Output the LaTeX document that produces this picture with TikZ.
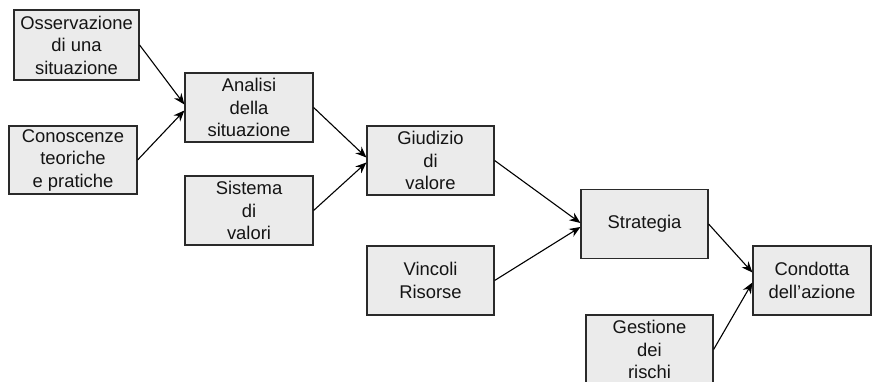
\documentclass[tikz,border=0pt]{standalone}
\usepackage{fontspec}
\setmainfont{Liberation Sans}
\usetikzlibrary{arrows.meta}
\definecolor{boxfill}{HTML}{EBEBEB}
\definecolor{boxline}{HTML}{2A2A2A}
\tikzset{
  stepbox/.style={draw=boxline, fill=boxfill, line width=1.2pt,
    minimum width=127pt, minimum height=69pt, inner sep=0pt,
    align=center, text=black!92,
    font=\fontsize{18.4pt}{22.5pt}\selectfont},
  flow/.style={line width=1.1pt, -{Stealth[length=11pt,width=9pt]}},
}
\begin{document}
\begin{tikzpicture}[x=1pt,y=-1pt]
\useasboundingbox (0,0) rectangle (872,382);

% first column: inputs
\node[stepbox, minimum width=125pt, minimum height=70pt] (obs) at (76.5,45) {Osservazione\\di una\\situazione};
\node[stepbox, minimum width=128pt, minimum height=68pt] (con) at (73,160) {Conoscenze\\teoriche\\e pratiche};

% second column
\node[stepbox, minimum width=128pt] (ana) at (249,107.5) {Analisi\\della\\situazione};
\node[stepbox, minimum width=128pt] (sis) at (249,210.5) {Sistema\\di\\valori};

% third column
\node[stepbox] (giu) at (430.5,160.5) {Giudizio\\di\\valore};
\node[stepbox] (vin) at (430.5,280.5) {Vincoli\\Risorse};

% fourth column
\node[stepbox] (str) at (644.5,224) {Strategia};
\node[stepbox] (ges) at (649.5,349.5) {Gestione\\dei\\rischi};

% final step
\node[stepbox, minimum width=118pt] (con2) at (812,280.5) {Condotta\\dell’azione};

% connectors
\draw[flow] (obs.east) -- ([yshift=3pt]ana.west);
\draw[flow] (con.east) -- ([yshift=-3pt]ana.west);
\draw[flow] (ana.east) -- ([yshift=3pt]giu.west);
\draw[flow] (sis.east) -- ([yshift=-2pt]giu.west);
\draw[flow] (giu.east) -- ([yshift=1pt]str.west);
\draw[flow] (vin.east) -- ([yshift=-3pt]str.west);
\draw[flow] (str.east) -- ([yshift=8pt]con2.west);
\draw[flow] (ges.east) -- ([yshift=-2pt]con2.west);
\end{tikzpicture}
\end{document}
